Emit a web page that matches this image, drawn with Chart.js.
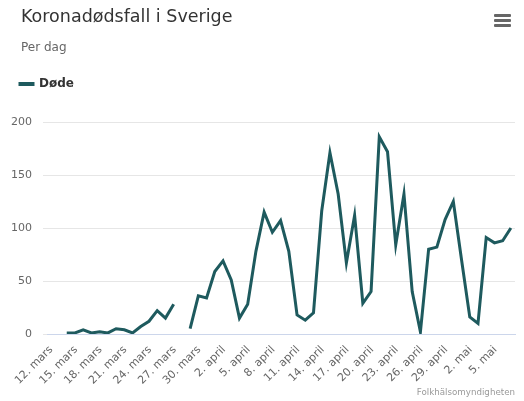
<!DOCTYPE html>
<html>
<head>
<meta charset="utf-8">
<script src="https://cdn.jsdelivr.net/npm/chart.js@4"></script>
<style>
  body { margin: 0; background: #fff; font-family: "DejaVu Sans", Verdana, sans-serif; }
  #wrap { position: relative; width: 524px; height: 401px; }
  #title { position: absolute; left: 21px; top: 6px; font-size: 17.5px; color: #333; }
  #subtitle { position: absolute; left: 21px; top: 40px; font-size: 12px; color: #666; }
  #credits { position: absolute; right: 9px; top: 387px; font-size: 8.7px; color: #999; }
  .bar { position: absolute; left: 494px; width: 17px; height: 3px; background: #666; border-radius: 1px; }
</style>
</head>
<body>
<div id="wrap">
  <canvas id="chart" width="524" height="401"></canvas>
  <div id="title">Koronadødsfall i Sverige</div>
  <div id="subtitle">Per dag</div>
  <div class="bar" style="top:14px"></div>
  <div class="bar" style="top:19px"></div>
  <div class="bar" style="top:24px"></div>
  <div id="credits">Folkhälsomyndigheten</div>
</div>
<script>
// one label per day, 12. mars - 7. mai
const days = [
  '12. mars','13. mars','14. mars','15. mars','16. mars','17. mars','18. mars','19. mars','20. mars',
  '21. mars','22. mars','23. mars','24. mars','25. mars','26. mars','27. mars','28. mars','29. mars',
  '30. mars','31. mars',
  '1. april','2. april','3. april','4. april','5. april','6. april','7. april','8. april','9. april',
  '10. april','11. april','12. april','13. april','14. april','15. april','16. april','17. april',
  '18. april','19. april','20. april','21. april','22. april','23. april','24. april','25. april',
  '26. april','27. april','28. april','29. april','30. april',
  '1. mai','2. mai','3. mai','4. mai','5. mai','6. mai','7. mai'
];

// deaths per day (null = no report)
const dode = [
  null, null,
  1, 1, 4, 1, 2, 1, 5, 4, 1, 7, 12, 22, 15, 28,
  null,
  5, 36, 34,
  59, 69, 51, 15, 28, 78, 115, 96, 107, 78,
  18, 13, 20, 116, 171, 132, 67, 112, 29, 40,
  186, 172, 84, 132, 40, 2, 80, 82, 108, 125,
  70, 16, 10, 91, 86, 88, 100
];

const yTicks = [0, 50, 100, 150, 200];
const tickEvery = 3;

const lineColor = '#1e5a5e';
const points = dode.map((v, i) => ({ x: i, y: v }));

// extra space under the legend, like the reference
const legendGap = {
  id: 'legendGap',
  beforeInit(chart) {
    const fit = chart.legend.fit;
    chart.legend.fit = function () {
      fit.call(this);
      this.height += 22;
    };
  }
};

// x labels at -45 degrees, end of text at the tick
const slantLabels = {
  id: 'slantLabels',
  afterDraw(chart) {
    const { ctx, scales: { x }, chartArea } = chart;
    ctx.save();
    ctx.font = '11px "DejaVu Sans"';
    ctx.fillStyle = '#666';
    ctx.textAlign = 'right';
    ctx.textBaseline = 'middle';
    x.ticks.forEach(t => {
      ctx.save();
      ctx.translate(x.getPixelForValue(t.value) + 1, chartArea.bottom + 14);
      ctx.rotate(-Math.PI / 4);
      ctx.fillText(days[t.value], 0, 0);
      ctx.restore();
    });
    ctx.restore();
  }
};

const chart = new Chart(document.getElementById('chart'), {
  type: 'line',
  plugins: [legendGap, slantLabels],
  data: {
    labels: days,
    datasets: [{
      label: 'Døde',
      data: points,
      borderColor: lineColor,
      backgroundColor: lineColor,
      borderWidth: 3,
      pointRadius: 0,
      pointHoverRadius: 0,
      tension: 0,
      spanGaps: false
    }]
  },
  options: {
    responsive: false,
    animation: false,
    layout: { padding: { left: 10, right: 9, top: 68, bottom: 59 } },
    plugins: {
      legend: {
        align: 'start',
        labels: {
          boxWidth: 13,
          boxHeight: 1,
          padding: 10,
          color: '#333',
          font: { family: 'DejaVu Sans', size: 12, weight: 'bold' }
        }
      },
      tooltip: { enabled: false }
    },
    scales: {
      x: {
        type: 'linear',
        min: -0.4,
        max: days.length - 0.5,
        afterBuildTicks: s => {
          s.ticks = days.map((d, i) => i).filter(i => i % tickEvery === 0).map(v => ({ value: v }));
        },
        grid: { display: false },
        border: { color: '#ccd6eb', width: 1 },
        ticks: { display: false }
      },
      y: {
        min: 0,
        max: 200,
        afterBuildTicks: s => { s.ticks = yTicks.map(v => ({ value: v })); },
        afterFit: s => { s.width = 37; },
        border: { display: false },
        grid: { color: '#e6e6e6', tickLength: 4, tickColor: '#e6e6e6' },
        ticks: {
          padding: 11,
          color: '#666',
          font: { family: 'DejaVu Sans', size: 11 }
        }
      }
    }
  }
});
</script>
</body>
</html>
